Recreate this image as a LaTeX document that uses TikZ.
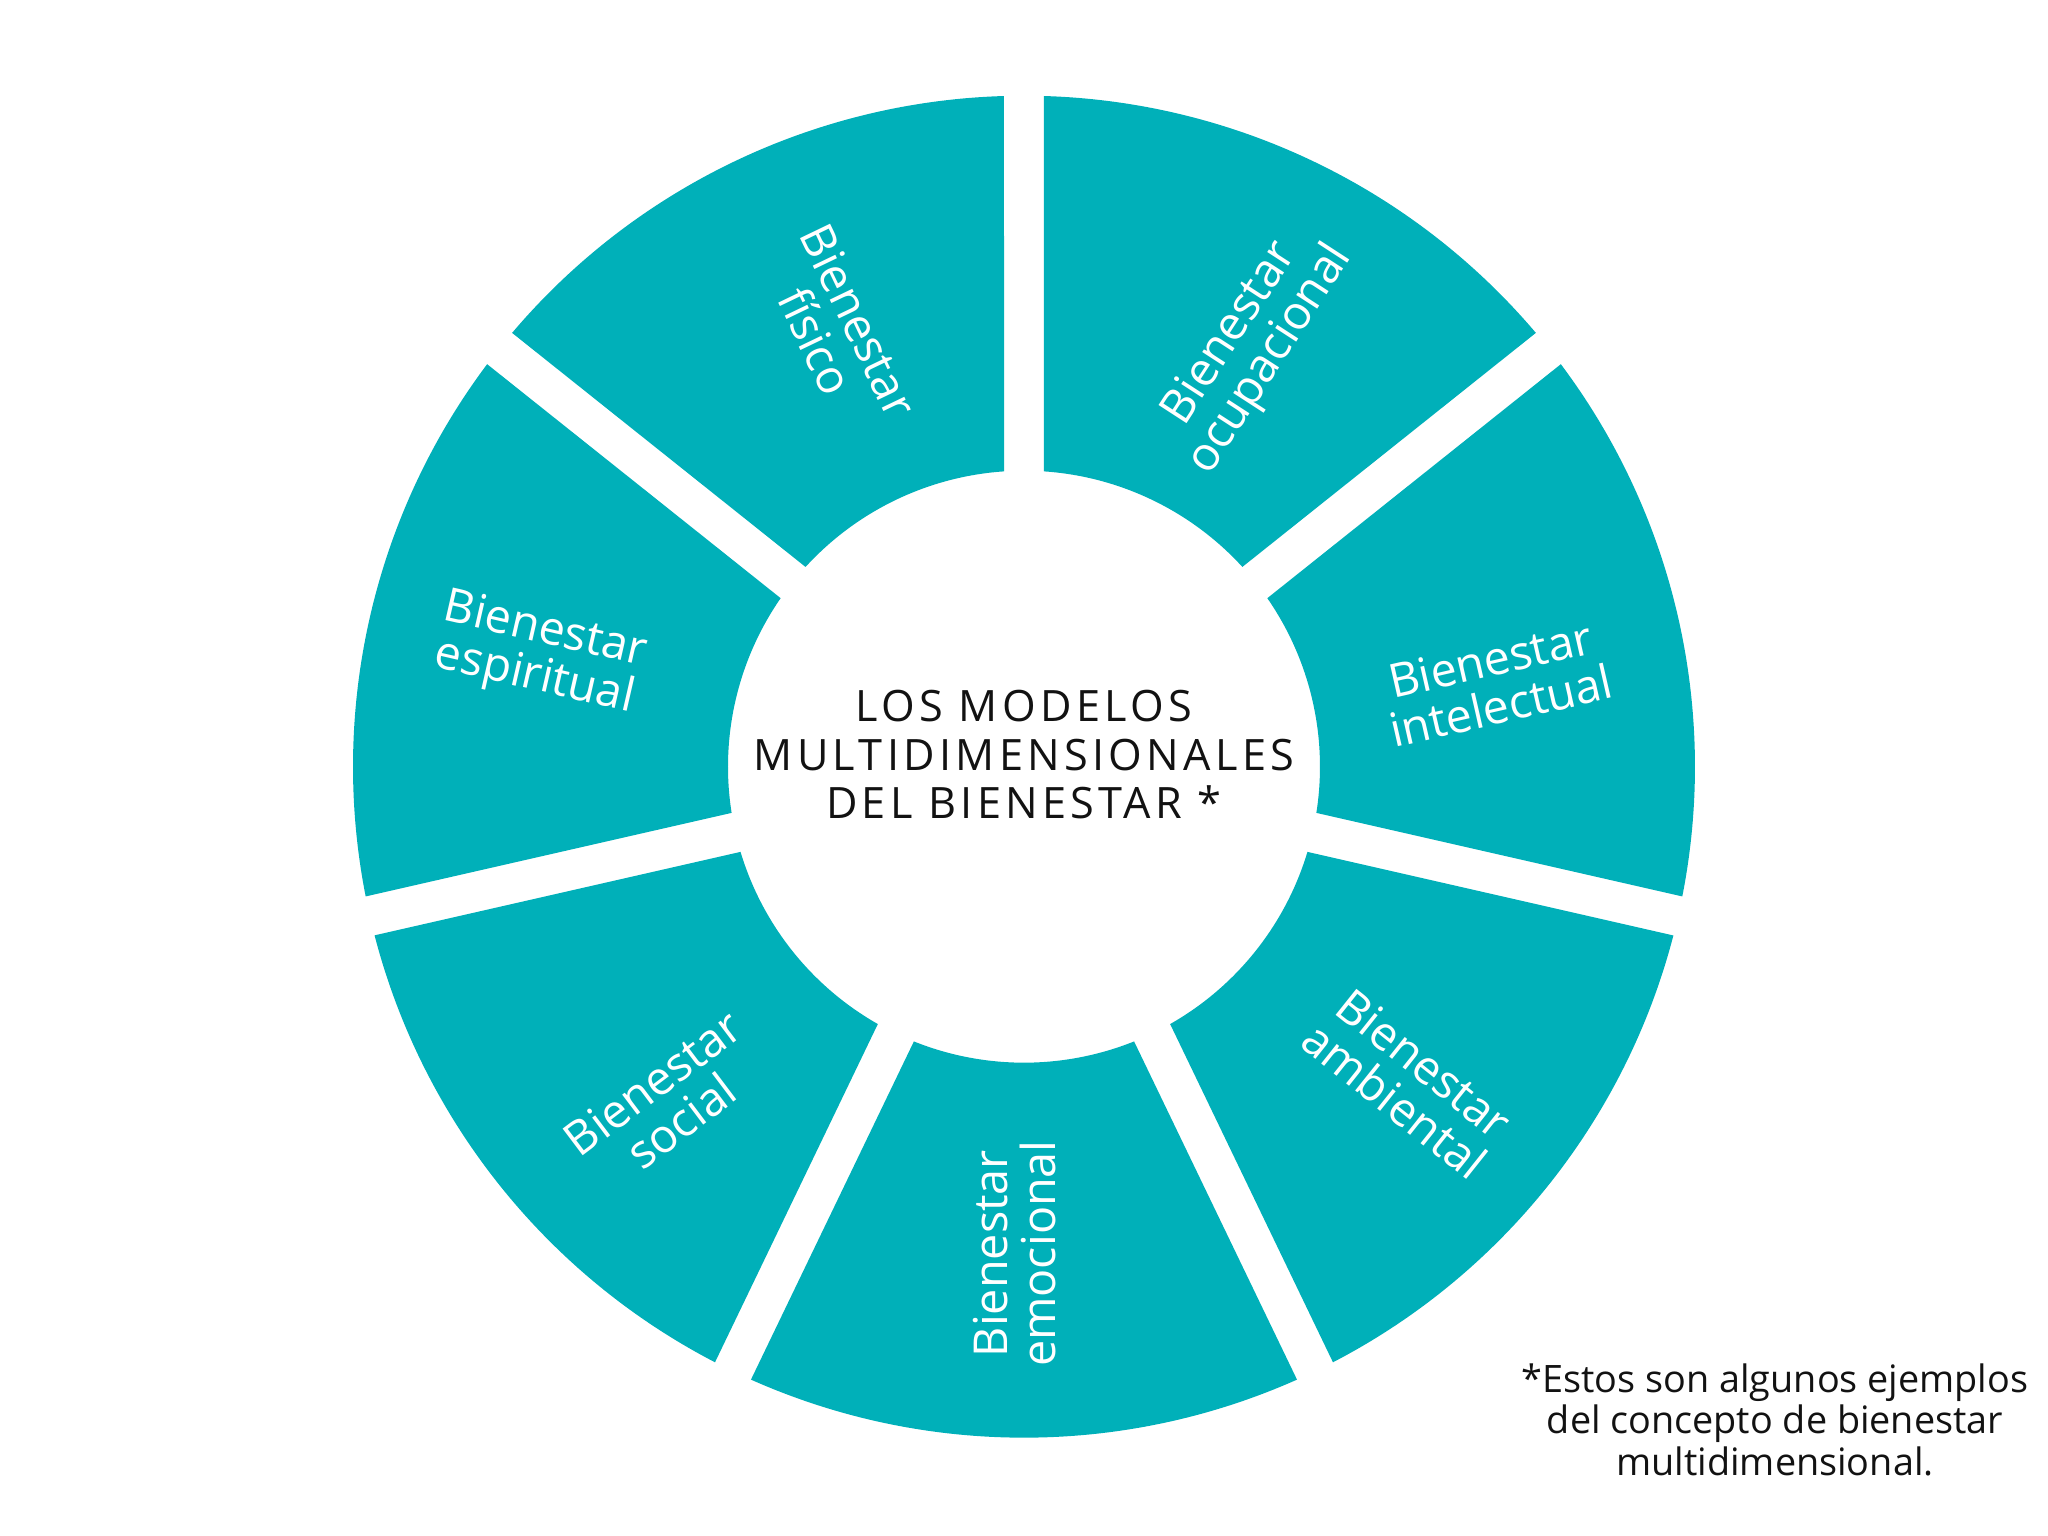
\documentclass[tikz,border=0pt]{standalone}
\usepackage{fontspec}
\setmainfont{Open Sans}
\newfontfamily\titlefont[LetterSpace=10]{Open Sans}
\definecolor{ringteal}{RGB}{0,176,185}
\tikzset{
  part/.style={fill=ringteal},
  partlabel/.style={text=white, align=center, font=\fontsize{13.3}{13.6}\selectfont},
}
\begin{document}
\begin{tikzpicture}
\useasboundingbox (-10.24,-7.693) rectangle (10.24,7.667);
%-------------- ring parts --------------------
% ocupacional
\fill[part] (40.28:6.71) arc[start angle=40.28, end angle=88.29, radius=6.71]
  -- (86.13:2.96) arc[start angle=86.13, end angle=42.45, radius=2.96] -- cycle;
% intelectual
\fill[part] (-11.15:6.71) arc[start angle=-11.15, end angle=36.86, radius=6.71]
  -- (34.70:2.96) arc[start angle=34.70, end angle=-8.98, radius=2.96] -- cycle;
% ambiental
\fill[part] (-62.58:6.71) arc[start angle=-62.58, end angle=-14.57, radius=6.71]
  -- (-16.73:2.96) arc[start angle=-16.73, end angle=-60.41, radius=2.96] -- cycle;
% emocional
\fill[part] (-114.01:6.71) arc[start angle=-114.01, end angle=-65.99, radius=6.71]
  -- (-68.16:2.96) arc[start angle=-68.16, end angle=-111.84, radius=2.96] -- cycle;
% social
\fill[part] (-165.44:6.71) arc[start angle=-165.44, end angle=-117.42, radius=6.71]
  -- (-119.59:2.96) arc[start angle=-119.59, end angle=-163.27, radius=2.96] -- cycle;
% espiritual
\fill[part] (143.14:6.71) arc[start angle=143.14, end angle=191.15, radius=6.71]
  -- (188.98:2.96) arc[start angle=188.98, end angle=145.30, radius=2.96] -- cycle;
% fisico
\fill[part] (91.71:6.71) arc[start angle=91.71, end angle=139.72, radius=6.71]
  -- (137.56:2.96) arc[start angle=137.56, end angle=93.87, radius=2.96] -- cycle;

%--------------- labels ----------------------
\node[partlabel, rotate=-64.29] (fisico) at (113.2:4.74) {Bienestar\\físico};
\node[partlabel, rotate=57] (ocupacional) at (61.6:4.77) {Bienestar\\ocupacional};
\node[partlabel, rotate=12.86] (intelectual) at (10.1:4.79) {Bienestar\\intelectual};
\node[partlabel, rotate=-38.57] (ambiental) at (-39.3:4.98) {Bienestar\\ambiental};
\node[partlabel, rotate=90] (emocional) at (-91.1:4.87) {Bienestar\\emocional};
\node[partlabel, rotate=37] (social) at (-136.8:4.9) {Bienestar\\social};
\node[partlabel, rotate=-12.86] (espiritual) at (167:4.97) {Bienestar\\espiritual};

%--------------- centre ----------------------
\node[align=center, text=black!93, font=\titlefont\fontsize{12.3}{13.8}\selectfont]
  (title) at (0,0.12) {LOS MODELOS\\MULTIDIMENSIONALES\\DEL BIENESTAR *};

%--------------- note ----------------------
\node[align=center, text=black!93, font=\fontsize{10.75}{10.7}\selectfont]
  (note) at (7.51,-6.53) {*Estos son algunos ejemplos\\del concepto de bienestar\\multidimensional.};

\end{tikzpicture}
\end{document}
